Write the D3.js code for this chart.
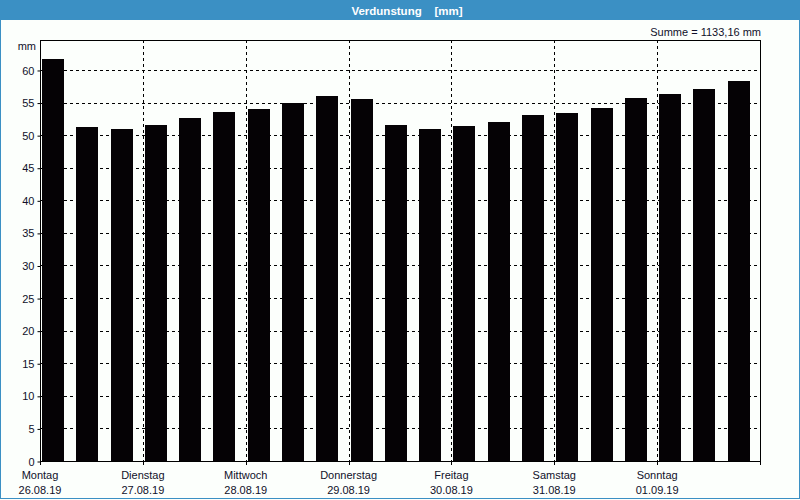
<!DOCTYPE html>
<html><head><meta charset="utf-8">
<script src="https://cdn.jsdelivr.net/npm/d3@7"></script>
<style>html,body{margin:0;padding:0;background:#fcfffc;}svg{display:block;}</style>
</head><body>
<svg id="c" width="800" height="500"></svg>
<script>
const title = "Verdunstung\u00a0\u00a0\u00a0\u00a0[mm]";
const sumLabel = "Summe = 1133,16 mm";
const unitLabel = "mm";
const dayNames = ["Montag","Dienstag","Mittwoch","Donnerstag","Freitag","Samstag","Sonntag"];
const dayDates = ["26.08.19","27.08.19","28.08.19","29.08.19","30.08.19","31.08.19","01.09.19"];
const values = [61.7,51.25,50.9,51.55,52.6,53.55,54.0,54.9,56.0,55.55,51.55,50.9,51.4,52.0,53.1,53.4,54.2,55.7,56.3,57.1,58.3];
const yTicks = [0,5,10,15,20,25,30,35,40,45,50,55,60];

const svg = d3.select("#c");
const W = 800, H = 500;
const L = 40, R = 760, T = 40, B = 461;
const font = "Liberation Sans, Arial, sans-serif";
const txt = "#10102a";

// window frame
svg.append("rect").attr("x",0).attr("y",0).attr("width",W).attr("height",H).attr("fill","#fcfffc");
svg.append("rect").attr("x",0.5).attr("y",0.5).attr("width",W-1).attr("height",H-2).attr("fill","none").attr("stroke","#3b90c4");
svg.append("rect").attr("x",0).attr("y",0).attr("width",W).attr("height",20).attr("fill","#3b90c4");
svg.append("text").attr("x",407).attr("y",14.5).attr("text-anchor","middle")
  .attr("font-family",font).attr("font-size",11.5).attr("font-weight","bold").attr("fill","#ffffff").text(title);

const y = d3.scaleLinear().domain([0,64.6]).range([B,T]);
const x = d3.scaleBand().domain(d3.range(values.length)).range([L,R]).padding(0);
const xd = d3.scaleLinear().domain([0,7]).range([L,R]);

// horizontal grid
svg.append("g").selectAll("line").data(yTicks.filter(v=>v>0)).join("line")
  .attr("x1",L).attr("x2",R).attr("y1",d=>Math.round(y(d))+0.5).attr("y2",d=>Math.round(y(d))+0.5)
  .attr("stroke","#000").attr("stroke-dasharray","3,3");
// vertical grid
svg.append("g").selectAll("line").data(d3.range(1,7)).join("line")
  .attr("x1",d=>Math.round(xd(d))+0.5).attr("x2",d=>Math.round(xd(d))+0.5).attr("y1",T).attr("y2",B)
  .attr("stroke","#000").attr("stroke-dasharray","3,3");

// bars
svg.append("g").selectAll("rect").data(values).join("rect")
  .attr("x",(d,i)=>Math.round(x(i))+2).attr("width",Math.round(x.bandwidth()*0.64))
  .attr("y",d=>Math.round(y(d))).attr("height",d=>B-Math.round(y(d)))
  .attr("fill","#050205");

// frame
svg.append("rect").attr("x",L+0.5).attr("y",T+0.5).attr("width",R-L).attr("height",B-T).attr("fill","none").attr("stroke","#000");

// y axis
const yAxis = d3.axisLeft(y).tickValues(yTicks).tickSize(3).tickPadding(3).tickFormat(d3.format("d"));
const gy = svg.append("g").attr("transform",`translate(${L+0.5},0.5)`).call(yAxis);
gy.select(".domain").remove();
gy.selectAll("text").attr("font-family",font).attr("font-size",11).attr("fill",txt);
gy.selectAll("line").attr("stroke","#000");

svg.append("text").attr("x",36).attr("y",50).attr("text-anchor","end")
  .attr("font-family",font).attr("font-size",11).attr("fill",txt).text(unitLabel);
svg.append("text").attr("x",761).attr("y",36).attr("text-anchor","end")
  .attr("font-family",font).attr("font-size",11).attr("fill",txt).text(sumLabel);

// x ticks
svg.append("g").selectAll("line").data(d3.range(0,8)).join("line")
  .attr("x1",d=>Math.round(xd(d))+0.5).attr("x2",d=>Math.round(xd(d))+0.5).attr("y1",B).attr("y2",B+4)
  .attr("stroke","#000");

const gl = svg.append("g").attr("font-family",font).attr("font-size",11).attr("fill",txt).attr("text-anchor","middle");
gl.selectAll("text.n").data(dayNames).join("text").attr("class","n")
  .attr("x",(d,i)=>xd(i)).attr("y",479).text(d=>d);
gl.selectAll("text.d").data(dayDates).join("text").attr("class","d")
  .attr("x",(d,i)=>xd(i)).attr("y",494).text(d=>d);
</script>
</body></html>
